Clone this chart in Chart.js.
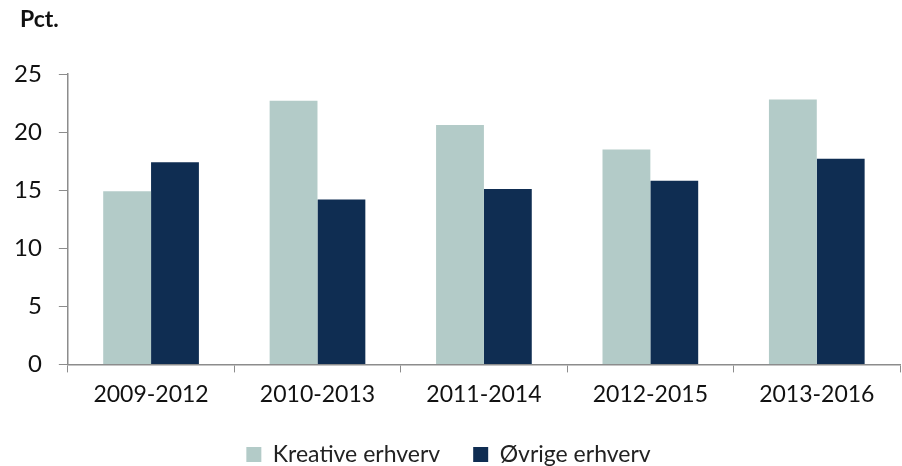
<!DOCTYPE html>
<html>
<head>
<meta charset="utf-8">
<script src="https://cdn.jsdelivr.net/npm/chart.js@4"></script>
<style>
  html, body { margin: 0; padding: 0; background: #fff; }
  #wrap { width: 902px; height: 466px; }
</style>
</head>
<body>
<div id="wrap"><canvas id="chart"></canvas></div>
<script>
// Data
const periods = ["2009-2012", "2010-2013", "2011-2014", "2012-2015", "2013-2016"];
const kreative = [14.9, 22.7, 20.6, 18.5, 22.8];
const oevrige = [17.4, 14.2, 15.1, 15.8, 17.7];
const yTicks = [0, 5, 10, 15, 20, 25];

const fontFamily = "Lato, 'Noto Sans', sans-serif";
const axisColor = "#8c8c8c";

// unit label in the top-left corner
const unitLabel = {
    id: "unitLabel",
    afterDraw(chart) {
        const c = chart.ctx;
        c.save();
        c.fillStyle = "#111";
        c.font = "bold 23px " + fontFamily;
        c.textBaseline = "middle";
        c.fillText("Pct.", 20, 20);
        c.restore();
    }
};

const ctx = document.getElementById("chart").getContext("2d");
new Chart(ctx, {
    type: "bar",
    data: {
        labels: periods,
        datasets: [
            { label: "Kreative erhverv", data: kreative, backgroundColor: "#b3cbc8", categoryPercentage: 0.575, barPercentage: 1 },
            { label: "Øvrige erhverv", data: oevrige, backgroundColor: "#0f2d52", categoryPercentage: 0.575, barPercentage: 1 }
        ]
    },
    plugins: [unitLabel],
    options: {
        responsive: true,
        maintainAspectRatio: false,
        animation: false,
        layout: { padding: { left: -3, right: 2, top: 74, bottom: -10 } },
        plugins: {
            title: { display: false },
            legend: {
                position: "bottom",
                labels: {
                    color: "#222",
                    font: { family: fontFamily, size: 23 },
                    boxWidth: 15,
                    boxHeight: 15,
                    padding: 33
                }
            },
            tooltip: { enabled: false }
        },
        scales: {
            x: {
                afterFit: (scale) => { scale.height -= 6; },
                grid: { display: true, drawOnChartArea: false, color: axisColor, tickLength: 8, offset: true },
                border: { color: axisColor, width: 1.5 },
                ticks: { color: "#111", font: { family: fontFamily, size: 23 }, padding: 8 }
            },
            y: {
                min: 0,
                max: 25,
                afterBuildTicks: (axis) => { axis.ticks = yTicks.map(v => ({ value: v })); },
                grid: { display: true, drawOnChartArea: false, color: axisColor, tickLength: 9 },
                border: { color: axisColor, width: 1.5 },
                ticks: { color: "#111", font: { family: fontFamily, size: 24 }, padding: 17 }
            }
        }
    }
});
</script>
</body>
</html>
